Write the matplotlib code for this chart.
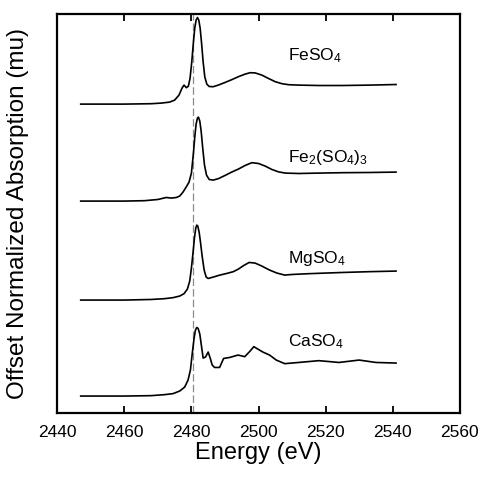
import matplotlib
matplotlib.use("Agg")
import matplotlib.pyplot as plt

plt.rcParams["font.family"] = ["Liberation Sans", "DejaVu Sans"]
plt.rcParams["mathtext.fontset"] = "custom"
plt.rcParams["mathtext.rm"] = "Liberation Sans"
plt.rcParams["mathtext.default"] = "regular"

# ── data (energy in eV, normalized absorption) ───────────────────────────────
feso4_e = [2447, 2460, 2468, 2471, 2473.5, 2475, 2476.3, 2477.2, 2477.8, 2478.5,
           2479.1, 2479.6, 2480.1, 2480.6, 2481.0, 2481.4, 2481.8, 2482.2, 2482.6,
           2483.0, 2483.5, 2484.0, 2484.6, 2485.3, 2486.5, 2488, 2490, 2492, 2494,
           2496, 2497.5, 2499, 2501, 2503, 2505, 2507, 2509, 2512, 2518, 2525,
           2533, 2541]
feso4_mu = [0, 0, 0.02, 0.05, 0.1, 0.2, 0.45, 0.8, 0.95, 0.82,
            0.9, 1.3, 2.1, 3.1, 3.8, 4.2, 4.33, 4.2, 3.8,
            3.1, 2.1, 1.35, 1.0, 0.88, 0.87, 0.95, 1.08, 1.22, 1.37,
            1.5, 1.57, 1.56, 1.45, 1.28, 1.12, 1.02, 0.97, 0.95, 0.93, 0.93,
            0.95, 0.98]

fe2so43_e = [2447, 2460, 2466, 2470, 2472.5, 2474, 2475.5, 2476.5, 2477.5, 2478.5,
             2479.3, 2480.0, 2480.6, 2481.0, 2481.4, 2481.8, 2482.1, 2482.5, 2482.9,
             2483.4, 2483.9, 2484.5, 2485.3, 2486.5, 2488, 2490, 2492, 2494, 2496,
             2498, 2500, 2502, 2504, 2506, 2508, 2512, 2518, 2525, 2533, 2541]
fe2so43_mu = [0, 0, 0.02, 0.08, 0.18, 0.15, 0.18, 0.25, 0.45, 0.72,
              0.95, 1.4, 2.4, 3.2, 3.85, 4.15, 4.2, 4.0, 3.5,
              2.6, 1.8, 1.3, 1.08, 1.05, 1.12, 1.28, 1.45, 1.6, 1.78,
              1.92, 1.88, 1.75, 1.58, 1.46, 1.4, 1.38, 1.4, 1.42, 1.43, 1.45]

mgso4_e = [2447, 2460, 2468, 2472, 2474.5, 2476.5, 2477.8, 2478.8, 2479.5, 2480.0,
           2480.5, 2480.9, 2481.3, 2481.6, 2481.9, 2482.3, 2482.7, 2483.2, 2483.8,
           2484.4, 2485.0, 2486.5, 2488.5, 2490.5, 2492.5, 2494, 2495.5, 2497.2,
           2499, 2501, 2503.3, 2505.5, 2507.8, 2510, 2515, 2520, 2525, 2533, 2541]
mgso4_mu = [0, 0, 0.03, 0.07, 0.12, 0.2, 0.32, 0.55, 0.95, 1.6,
            2.4, 3.1, 3.6, 3.75, 3.7, 3.4, 2.9, 2.2, 1.5,
            1.15, 1.08, 1.15, 1.25, 1.33, 1.42, 1.55, 1.72, 1.88,
            1.85, 1.7, 1.5, 1.35, 1.25, 1.28, 1.32, 1.35, 1.38, 1.42, 1.45]

caso4_e = [2447, 2460, 2468, 2472, 2474.5, 2476.5, 2478, 2479, 2479.7, 2480.3,
           2480.8, 2481.2, 2481.6, 2482.0, 2482.5, 2483.0, 2483.5, 2484.2, 2485.0,
           2485.6, 2486.2, 2486.9, 2488.4, 2489.6, 2491.4, 2493.9, 2495.9, 2497.5,
           2498.6, 2500, 2501.3, 2503.3, 2505.3, 2507.8, 2512, 2518, 2524, 2530,
           2535, 2541]
caso4_mu = [0, 0, 0.02, 0.07, 0.12, 0.25, 0.45, 0.8, 1.3, 2.2,
            2.9, 3.3, 3.43, 3.38, 3.1, 2.5, 1.9, 1.95, 2.2,
            1.9, 1.55, 1.43, 1.43, 1.88, 1.93, 2.05, 1.97, 2.25,
            2.47, 2.33, 2.2, 2.05, 1.8, 1.62, 1.68, 1.77, 1.68, 1.8,
            1.68, 1.65]

labels = ["FeSO$_4$", "Fe$_2$(SO$_4$)$_3$", "MgSO$_4$", "CaSO$_4$"]
offsets = [15.47, 10.62, 5.67, 0.87]
label_y = [17.9, 12.8, 7.77, 3.57]
edge_energy = 2480.5
xticks = [2440, 2460, 2480, 2500, 2520, 2540, 2560]

spectra = [(feso4_e, feso4_mu), (fe2so43_e, fe2so43_mu),
           (mgso4_e, mgso4_mu), (caso4_e, caso4_mu)]

fig = plt.figure(figsize=(4.85, 4.83), dpi=100)
ax = fig.add_axes([0.118, 0.144, 0.830, 0.828])

ax.axvline(edge_energy, color="#8a8a8a", linestyle=(0, (6, 2.5)), linewidth=0.9)

for (e, mu), off, lab, ly in zip(spectra, offsets, labels, label_y):
    ax.plot(e, [m + off for m in mu], color="black", linewidth=1.2,
            solid_joinstyle="round")
    ax.text(2508.7, ly, lab, fontsize=12.5, va="center", ha="left")

ax.set_xlim(2440, 2560)
ax.set_ylim(0, 20)
ax.set_xticks(xticks)
ax.set_xticklabels([str(t) for t in xticks], fontsize=12.5)
ax.set_yticks([])
ax.tick_params(axis="x", direction="in", top=True, length=5, width=1.3, pad=8)
for s in ax.spines.values():
    s.set_linewidth(1.6)

ax.set_xlabel("Energy (eV)", fontsize=17, labelpad=2)
ax.set_ylabel("Offset Normalized Absorption (mu)", fontsize=17.5, labelpad=20)

fig.savefig("out.png", dpi=100)
